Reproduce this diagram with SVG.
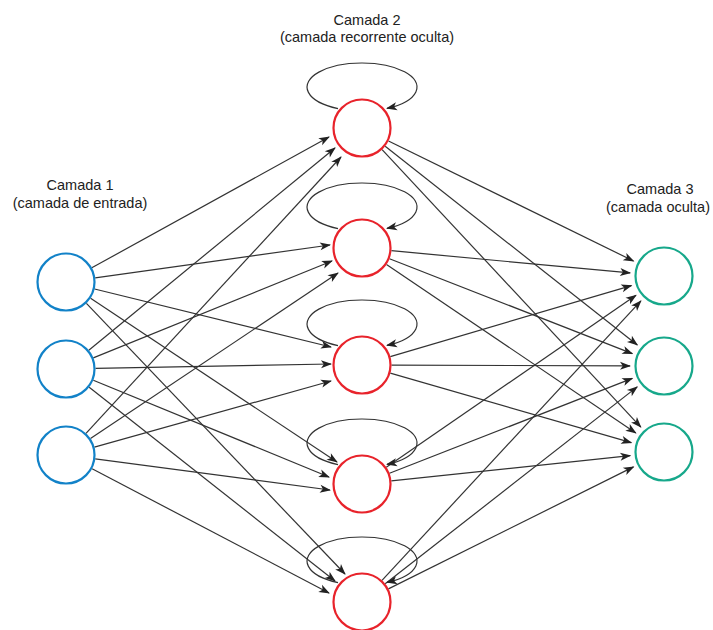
<svg xmlns="http://www.w3.org/2000/svg" width="713" height="630" viewBox="0 0 713 630">
  <style>
    .label { font-family: "Liberation Sans", Arial, sans-serif; font-size: 14.5px; fill: #222; text-anchor: middle; }
    .edge { stroke: #333; stroke-width: 1.2; fill: none; marker-end: url(#arrow); }
    .node { fill: #fff; stroke-width: 2.2; }
    .input { stroke: #1282c8; }
    .hidden { stroke: #e8232b; }
    .output { stroke: #17a88b; }
  </style>
  <defs>
    <marker id="arrow" markerUnits="userSpaceOnUse" markerWidth="12" markerHeight="10" viewBox="0 0 11 10" refX="10" refY="5" orient="auto">
      <path d="M0,1 L11,5 L0,9 L2.8,5 z" fill="#222"/>
    </marker>
  </defs>

  <!-- layer labels -->
  <g id="labels">
    <text class="label" x="80" y="190">Camada 1</text>
    <text class="label" x="80" y="208">(camada de entrada)</text>
    <text class="label" x="367" y="25">Camada 2</text>
    <text class="label" x="367" y="42">(camada recorrente oculta)</text>
    <text class="label" x="660" y="194">Camada 3</text>
    <text class="label" x="658" y="212">(camada oculta)</text>
  </g>

  <g id="connectors">
    <!-- input layer to recurrent layer -->
    <line class="edge" x1="91.8" y1="267.8" x2="329" y2="137"/>
    <line class="edge" x1="95.2" y1="277.9" x2="330" y2="245"/>
    <line class="edge" x1="94.6" y1="289.0" x2="331" y2="347"/>
    <line class="edge" x1="90.6" y1="298.3" x2="337" y2="462"/>
    <line class="edge" x1="86.4" y1="303.3" x2="345" y2="574"/>

    <line class="edge" x1="88.8" y1="350.3" x2="335" y2="148"/>
    <line class="edge" x1="93.3" y1="357.9" x2="332" y2="261"/>
    <line class="edge" x1="95.5" y1="368.4" x2="331" y2="364"/>
    <line class="edge" x1="93.3" y1="380.2" x2="329" y2="477"/>
    <line class="edge" x1="89.2" y1="387.3" x2="335" y2="581"/>

    <line class="edge" x1="86.0" y1="433.3" x2="341" y2="157"/>
    <line class="edge" x1="90.5" y1="438.6" x2="338" y2="273"/>
    <line class="edge" x1="94.4" y1="447.1" x2="331" y2="381"/>
    <line class="edge" x1="95.2" y1="458.9" x2="330" y2="490"/>
    <line class="edge" x1="92.1" y1="468.7" x2="329" y2="593"/>

    <!-- recurrent layer to output layer -->
    <line class="edge" x1="388.5" y1="141.0" x2="633.5" y2="261.0"/>
    <line class="edge" x1="385.2" y1="146.3" x2="637.3" y2="345.0"/>
    <line class="edge" x1="382.1" y1="149.6" x2="640.8" y2="427.1"/>

    <line class="edge" x1="391.4" y1="250.7" x2="630.1" y2="272.9"/>
    <line class="edge" x1="389.5" y1="258.7" x2="632.3" y2="353.6"/>
    <line class="edge" x1="386.5" y1="264.5" x2="635.8" y2="433.0"/>

    <line class="edge" x1="390.3" y1="356.7" x2="631.4" y2="285.6"/>
    <line class="edge" x1="391.5" y1="365.1" x2="630.0" y2="365.9"/>
    <line class="edge" x1="390.3" y1="373.2" x2="631.3" y2="442.6"/>

    <line class="edge" x1="386.3" y1="467.3" x2="636.0" y2="295.3"/>
    <line class="edge" x1="389.5" y1="473.3" x2="632.3" y2="378.4"/>
    <line class="edge" x1="391.3" y1="480.9" x2="630.2" y2="455.6"/>

    <line class="edge" x1="382.0" y1="580.4" x2="640.9" y2="300.9"/>
    <line class="edge" x1="385.2" y1="583.8" x2="637.2" y2="386.9"/>
    <line class="edge" x1="388.4" y1="588.9" x2="633.5" y2="466.9"/>

    <!-- self loops on the recurrent layer -->
    <path class="edge" d="M338,108.6 A55,24 0 1 1 387,108.4"/>
    <path class="edge" d="M338,228.6 A55,24 0 1 1 387,228.4"/>
    <path class="edge" d="M338,345.6 A55,24 0 1 1 387,345.4"/>
    <path class="edge" d="M338,464.6 A55,24 0 1 1 387,464.4"/>
    <path class="edge" d="M338,582.6 A55,24 0 1 1 387,582.4"/>
  </g>

  <!-- input layer -->
  <g id="in1"><circle class="node input" cx="66" cy="282" r="28.5"/></g>
  <g id="in2"><circle class="node input" cx="66" cy="369" r="28.5"/></g>
  <g id="in3"><circle class="node input" cx="66" cy="455" r="28.5"/></g>

  <!-- recurrent hidden layer -->
  <g id="rec1"><circle class="node hidden" cx="362" cy="128" r="28.5"/></g>
  <g id="rec2"><circle class="node hidden" cx="362" cy="248" r="28.5"/></g>
  <g id="rec3"><circle class="node hidden" cx="362" cy="365" r="28.5"/></g>
  <g id="rec4"><circle class="node hidden" cx="362" cy="484" r="28.5"/></g>
  <g id="rec5"><circle class="node hidden" cx="362" cy="602" r="28.5"/></g>

  <!-- output hidden layer -->
  <g id="out1"><circle class="node output" cx="664" cy="276" r="28.5"/></g>
  <g id="out2"><circle class="node output" cx="664" cy="366" r="28.5"/></g>
  <g id="out3"><circle class="node output" cx="664" cy="452" r="28.5"/></g>
</svg>
